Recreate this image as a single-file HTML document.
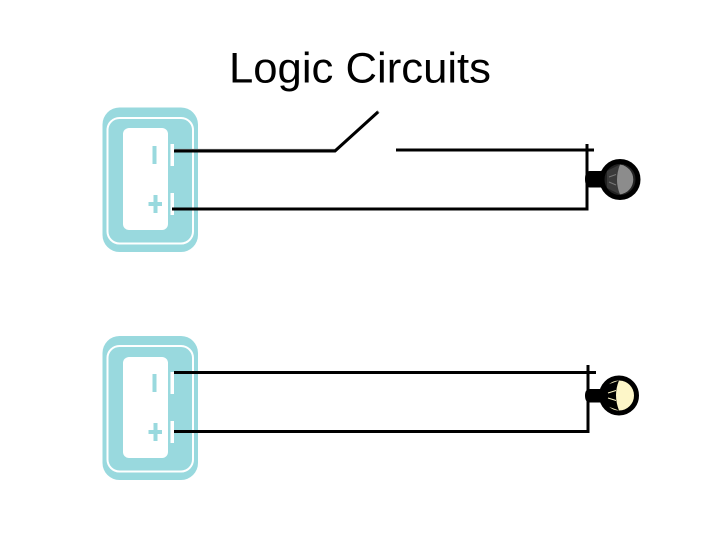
<!DOCTYPE html>
<html>
<head>
<meta charset="utf-8">
<style>
html,body{margin:0;padding:0;background:#fff;}
svg{display:block;}
</style>
</head>
<body>
<svg width="720" height="540" viewBox="0 0 720 540" xmlns="http://www.w3.org/2000/svg">
<rect width="720" height="540" fill="#fff"/>
<text x="229" y="82.5" font-family="'Liberation Sans',sans-serif" font-size="43" textLength="262" lengthAdjust="spacingAndGlyphs" fill="#000">Logic Circuits</text>

<!-- Battery 1 -->
<g>
<rect x="102.5" y="107.5" width="95.5" height="144.5" rx="17" fill="#99d9de"/>
<rect x="107.5" y="118" width="85.5" height="125.5" rx="12" fill="none" stroke="#fff" stroke-width="2"/>
<rect x="123" y="128" width="45" height="102" rx="6" fill="#fff"/>
<rect x="152.5" y="146" width="4" height="18" fill="#99d9de"/>
<rect x="148.5" y="202" width="13.5" height="4" fill="#99d9de"/>
<rect x="153.5" y="195" width="4" height="18" fill="#99d9de"/>
<rect x="170.5" y="144" width="3.5" height="22" fill="#fff"/>
<rect x="170.5" y="193" width="3.5" height="22" fill="#fff"/>
</g>

<!-- Battery 2 -->
<g>
<rect x="102.5" y="336" width="95.5" height="144" rx="17" fill="#99d9de"/>
<rect x="107.5" y="346" width="85.5" height="125.5" rx="12" fill="none" stroke="#fff" stroke-width="2"/>
<rect x="123" y="357" width="45" height="101" rx="6" fill="#fff"/>
<rect x="152.5" y="374" width="4" height="18" fill="#99d9de"/>
<rect x="148.5" y="430" width="13.5" height="4" fill="#99d9de"/>
<rect x="153.5" y="423" width="4" height="18" fill="#99d9de"/>
<rect x="170.5" y="372" width="3.5" height="22" fill="#fff"/>
<rect x="170.5" y="421" width="3.5" height="22" fill="#fff"/>
</g>

<!-- Circuit 1 wires -->
<g fill="none" stroke="#000" stroke-width="3">
<path d="M174 151H335L378 112" stroke="#888" transform="translate(0.6,-0.6)"/>
<path d="M174 151H335L378 112"/>
<path d="M396 150H594"/>
<path d="M587 144V209H172"/>
</g>

<!-- Circuit 2 wires -->
<g fill="none" stroke="#000" stroke-width="3">
<path d="M174 372.5H596"/>
<path d="M588 365V431.5H174"/>
</g>

<!-- Bulb 1 -->
<g>
<path d="M590 171H601L610 164V195L601 187.5H590Q585 187.5 585 179Q585 171 590 171Z" fill="#000"/>
<circle cx="620" cy="179.5" r="18" fill="#222" stroke="#000" stroke-width="5"/>
<path d="M607 171L619 165A15 15 0 0 1 619 194L607 188Z" fill="#3a3a3a"/>
<path d="M620 164.600A15 15 0 0 1 620 194.400Q614 180 620 164.600Z" fill="#8c8c8c"/>
<path d="M609 177L616 174.500M609 182L616 185" stroke="#777" stroke-width="1" fill="none"/>
</g>

<!-- Bulb 2 -->
<g>
<path d="M590 389H601L610 381V410L601 402.500H590Q585 402.500 585 395.500Q585 389 590 389Z" fill="#000"/>
<circle cx="619" cy="395.5" r="17.5" fill="#fdf6c8" stroke="#000" stroke-width="5"/>
<path d="M604 386L619 380.500Q613 395 619 410.500L604 405Z" fill="#000"/>
<path d="M608 393L616 390.500M608 398L616 400.500" stroke="#fdf6c8" stroke-width="1" fill="none"/>
</g>
</svg>
</body>
</html>
